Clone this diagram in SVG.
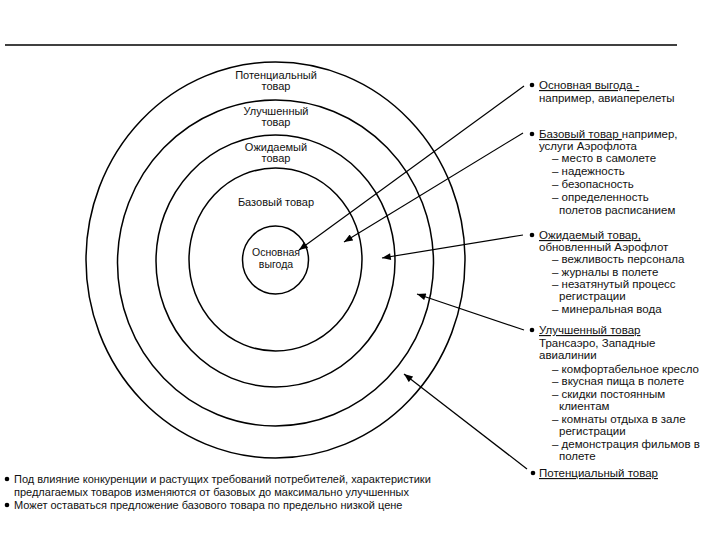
<svg xmlns="http://www.w3.org/2000/svg" width="720" height="540" viewBox="0 0 720 540">
<style>
.ring{fill:none;stroke:#000;stroke-width:1.5}
.lbl{font-family:"Liberation Sans",Arial,sans-serif;font-size:11px;fill:#111;text-anchor:middle}
.rt{font-family:"Liberation Sans",Arial,sans-serif;font-size:11.5px;fill:#111}
.bt{font-family:"Liberation Sans",Arial,sans-serif;font-size:11px;fill:#111}
.u{text-decoration:underline}
.con{stroke:#000;stroke-width:1.2;fill:none;marker-end:url(#ah)}
</style>
<defs>
<marker id="ah" viewBox="0 0 10 8" refX="10" refY="4" markerWidth="10" markerHeight="7" markerUnits="userSpaceOnUse" orient="auto">
<path d="M0,0 L10,4 L0,8 z" fill="#000"/>
</marker>
</defs>
<rect width="720" height="540" fill="#fff"/>
<line x1="5" y1="45" x2="677" y2="45" stroke="#000" stroke-width="1.5"/>

<g id="potential">
<ellipse class="ring" cx="275.5" cy="260" rx="189.5" ry="198"/>
<text class="lbl" x="276" y="79">Потенциальный</text>
<text class="lbl" x="276" y="90">товар</text>
</g>
<g id="improved">
<ellipse class="ring" cx="275.5" cy="263" rx="158" ry="163"/>
<text class="lbl" x="276" y="115">Улучшенный</text>
<text class="lbl" x="276" y="126">товар</text>
</g>
<g id="expected">
<ellipse class="ring" cx="275.5" cy="261" rx="119.5" ry="126"/>
<text class="lbl" x="276" y="151">Ожидаемый</text>
<text class="lbl" x="276" y="162">товар</text>
</g>
<g id="basic">
<ellipse class="ring" cx="275.5" cy="259.5" rx="86.5" ry="91.5"/>
<text class="lbl" x="276" y="206">Базовый товар</text>
</g>
<g id="core">
<ellipse class="ring" cx="275.5" cy="260" rx="33" ry="34"/>
<text class="lbl" x="276" y="256" style="font-size:10.5px">Основная</text>
<text class="lbl" x="276" y="268" style="font-size:10.5px">выгода</text>
</g>

<g id="connectors">
<line class="con" x1="524" y1="86" x2="299" y2="250"/>
<line class="con" x1="523" y1="133" x2="344" y2="242"/>
<line class="con" x1="523" y1="235" x2="382" y2="258"/>
<line class="con" x1="524" y1="330" x2="417" y2="294"/>
<line class="con" x1="527" y1="469" x2="404" y2="374"/>
</g>

<g id="right-text">
<circle cx="532" cy="85" r="2.3"/>
<text class="rt" x="539" y="89"><tspan class="u">Основная выгода -</tspan></text>
<text class="rt" x="539" y="102">например, авиаперелеты</text>

<circle cx="532" cy="134" r="2.3"/>
<text class="rt" x="539" y="138"><tspan class="u">Базовый товар </tspan> например,</text>
<text class="rt" x="539" y="150">услуги Аэрофлота</text>
<text class="rt" x="552" y="162">– место в самолете</text>
<text class="rt" x="552" y="175">– надежность</text>
<text class="rt" x="552" y="188">– безопасность</text>
<text class="rt" x="552" y="201">– определенность</text>
<text class="rt" x="559" y="214">полетов расписанием</text>

<circle cx="532" cy="235" r="2.3"/>
<text class="rt" x="539" y="239"><tspan class="u">Ожидаемый товар,</tspan></text>
<text class="rt" x="539" y="251">обновленный Аэрофлот</text>
<text class="rt" x="552" y="263">– вежливость персонала</text>
<text class="rt" x="552" y="276">– журналы в полете</text>
<text class="rt" x="552" y="288">– незатянутый процесс</text>
<text class="rt" x="559" y="300">регистрации</text>
<text class="rt" x="552" y="313">– минеральная вода</text>

<circle cx="532" cy="330" r="2.3"/>
<text class="rt" x="539" y="334"><tspan class="u">Улучшенный товар </tspan></text>
<text class="rt" x="539" y="347">Трансаэро, Западные</text>
<text class="rt" x="539" y="359">авиалинии</text>
<text class="rt" x="552" y="373">– комфортабельное кресло</text>
<text class="rt" x="552" y="385">– вкусная пища в полете</text>
<text class="rt" x="552" y="398">– скидки постоянным</text>
<text class="rt" x="559" y="410">клиентам</text>
<text class="rt" x="552" y="423">– комнаты отдыха в зале</text>
<text class="rt" x="559" y="435">регистрации</text>
<text class="rt" x="552" y="448">– демонстрация фильмов в</text>
<text class="rt" x="559" y="460">полете</text>

<circle cx="533" cy="473" r="2.3"/>
<text class="rt" x="539" y="477"><tspan class="u">Потенциальный товар</tspan></text>
</g>

<g id="bottom-text">
<circle cx="7" cy="479" r="2.3"/>
<text class="bt" x="14" y="483">Под влияние конкуренции и растущих требований потребителей, характеристики</text>
<text class="bt" x="14" y="496">предлагаемых товаров изменяются от базовых до максимально улучшенных</text>
<circle cx="7" cy="505" r="2.3"/>
<text class="bt" x="14" y="509">Может оставаться предложение базового товара по предельно низкой цене</text>
</g>
</svg>
